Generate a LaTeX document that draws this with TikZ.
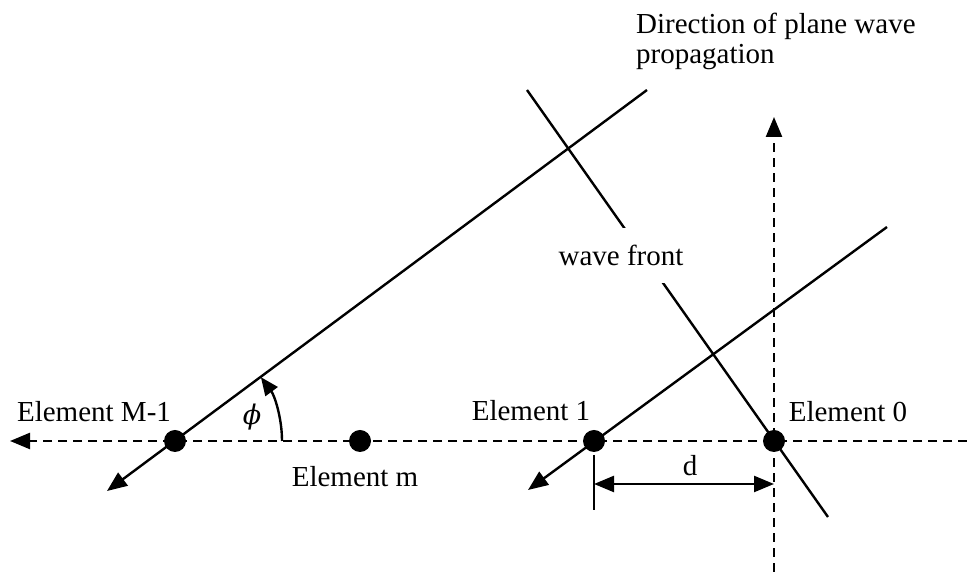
\documentclass[tikz,border=0pt]{standalone}
\usepackage{fontspec}
\setmainfont{Liberation Serif}
\newfontfamily\phifont{DejaVu Serif}
\usetikzlibrary{arrows.meta}
\begin{document}
\begin{tikzpicture}[x=1pt,y=1pt,
  every node/.style={font=\fontsize{29}{30}\selectfont},
  ln/.style={line width=2.4pt},
  dsh/.style={line width=2.4pt,dash pattern=on 9pt off 6pt},
  tip/.style={-{Triangle[length=20pt,width=16pt]}},
  dot/.style={circle,fill=black,minimum size=22pt,inner sep=0pt},
  lbl/.style={inner sep=0pt}]
\useasboundingbox (0,0) rectangle (967,572);
% coordinates
\coordinate (L) at (10,131);
\coordinate (R) at (967,131);
\coordinate (vT) at (774,455);
\coordinate (vB) at (774,0);
\coordinate (aTop) at (647,482);
\coordinate (aBot) at (107,81);
\coordinate (bTop) at (887,345);
\coordinate (bBot) at (528,82);
\coordinate (wTop) at (527,482);
\coordinate (wBot) at (828,55);
\coordinate (tT) at (594,117);
\coordinate (tB) at (594,62);
\coordinate (dL) at (594,88);
\coordinate (dR) at (774,88);
% dashed axes
\draw[dsh,tip] (R) -- (L);
\draw[dsh,tip] (vB) -- (vT);
% propagation lines
\draw[ln,tip] (aTop) -- (aBot);
\draw[ln,tip] (bTop) -- (bBot);
% wave front
\draw[ln] (wTop) -- (wBot);
\node[fill=white,inner xsep=4pt,inner ysep=0pt,minimum height=55pt] (wf) at (621,316.5) {wave front};
% element dots
\node[dot] (eM) at (175,131) {};
\node[dot] (em) at (360,131) {};
\node[dot] (e1) at (594,131) {};
\node[dot] (e0) at (774,131) {};
% phi arc
\draw[ln,-{Triangle[length=18pt,width=15pt]}] (eM.center) ++(107,0) arc[start angle=0,end angle=36.6,radius=107];
\node[lbl,font=\fontsize{27}{30}\phifont\itshape] (phi) at (252,155) {ϕ};
% d dimension
\draw[ln] (tT) -- (tB);
\draw[ln,{Triangle[length=20pt,width=16pt]}-{Triangle[length=20pt,width=16pt]}] (dL) -- (dR);
\node[lbl] (d) at (690,106) {d};
% labels
\node[lbl] (lM) at (94,160) {Element M-1};
\node[lbl] (lm) at (355,95) {Element m};
\node[lbl] (l1) at (531,161) {Element 1};
\node[lbl] (l0) at (848,160) {Element 0};
\node[lbl,anchor=north west,align=left] (dir) at (636,559) {Direction of plane wave\\propagation};
\end{tikzpicture}
\end{document}
